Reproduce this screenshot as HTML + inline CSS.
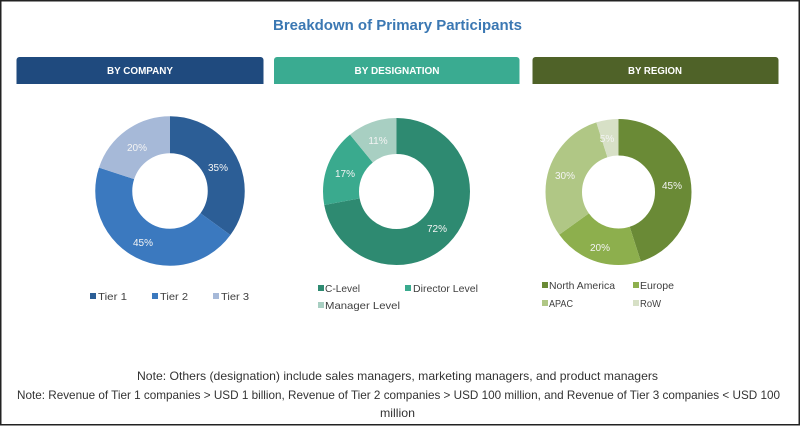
<!DOCTYPE html>
<html>
<head>
<meta charset="utf-8">
<style>
html,body{margin:0;padding:0;background:#fff;}
svg{display:block;}
text{font-family:"Liberation Sans",Arial,sans-serif;}
</style>
</head>
<body>
<svg width="800" height="426" viewBox="0 0 800 426" xmlns="http://www.w3.org/2000/svg">
  <rect x="0" y="0" width="800" height="426" fill="#fff"/>
  <rect x="0.75" y="0.75" width="798.5" height="424" fill="none" stroke="#222" stroke-width="1.5"/>

  <!-- Title -->
  <text x="397.5" y="30" text-anchor="middle" font-size="15" font-weight="bold" fill="#3b78b3" textLength="249" lengthAdjust="spacingAndGlyphs">Breakdown of Primary Participants</text>

  <!-- Header bars -->
  <path d="M16.5,84 V60 a3,3 0 0 1 3,-3 H260.5 a3,3 0 0 1 3,3 V84 Z" fill="#1f4a7e"/>
  <text x="140" y="74" text-anchor="middle" font-size="10" font-weight="bold" fill="#fff" textLength="66" lengthAdjust="spacingAndGlyphs">BY COMPANY</text>
  <path d="M274,84 V60 a3,3 0 0 1 3,-3 H516.5 a3,3 0 0 1 3,3 V84 Z" fill="#3aab91"/>
  <text x="397" y="74" text-anchor="middle" font-size="10" font-weight="bold" fill="#fff" textLength="85" lengthAdjust="spacingAndGlyphs">BY DESIGNATION</text>
  <path d="M532.5,84 V60 a3,3 0 0 1 3,-3 H775.5 a3,3 0 0 1 3,3 V84 Z" fill="#4f6228"/>
  <text x="655" y="74" text-anchor="middle" font-size="10" font-weight="bold" fill="#fff" textLength="54" lengthAdjust="spacingAndGlyphs">BY REGION</text>

  <!-- Donut 1: Company -->
  <g transform="rotate(-90 170 191)" fill="none" stroke-width="37">
    <circle cx="170" cy="191" r="56.25" stroke="#2c5e96" stroke-dasharray="123.70 353.43" stroke-dashoffset="0"/>
    <circle cx="170" cy="191" r="56.25" stroke="#3b79bf" stroke-dasharray="159.04 353.43" stroke-dashoffset="-123.70"/>
    <circle cx="170" cy="191" r="56.25" stroke="#a6b9d8" stroke-dasharray="70.69 353.43" stroke-dashoffset="-282.74"/>
  </g>
  <g font-size="10" fill="#f4f4f4" text-anchor="middle">
    <text x="218" y="171">35%</text>
    <text x="143" y="246">45%</text>
    <text x="137" y="151">20%</text>
  </g>
  <g font-size="10.5" fill="#404040">
    <rect x="90" y="293" width="6" height="6" fill="#2c5e96"/>
    <text x="98" y="300" textLength="29" lengthAdjust="spacingAndGlyphs">Tier 1</text>
    <rect x="152" y="293" width="6" height="6" fill="#3b79bf"/>
    <text x="160" y="300" textLength="28" lengthAdjust="spacingAndGlyphs">Tier 2</text>
    <rect x="213" y="293" width="6" height="6" fill="#a6b9d8"/>
    <text x="221" y="300" textLength="28" lengthAdjust="spacingAndGlyphs">Tier 3</text>
  </g>

  <!-- Donut 2: Designation -->
  <g transform="rotate(-90 396.5 191.5)" fill="none" stroke-width="36">
    <circle cx="396.5" cy="191.5" r="55.5" stroke="#2e8a71" stroke-dasharray="251.08 348.72" stroke-dashoffset="0"/>
    <circle cx="396.5" cy="191.5" r="55.5" stroke="#3aaa8e" stroke-dasharray="59.28 348.72" stroke-dashoffset="-251.08"/>
    <circle cx="396.5" cy="191.5" r="55.5" stroke="#a8cfc2" stroke-dasharray="38.36 348.72" stroke-dashoffset="-310.36"/>
  </g>
  <g font-size="10" fill="#f4f4f4" text-anchor="middle">
    <text x="437" y="232">72%</text>
    <text x="345" y="177">17%</text>
    <text x="378" y="144">11%</text>
  </g>
  <g font-size="10.5" fill="#404040">
    <rect x="318" y="285" width="6" height="6" fill="#2e8a71"/>
    <text x="325" y="292" textLength="35" lengthAdjust="spacingAndGlyphs">C-Level</text>
    <rect x="405" y="285" width="6" height="6" fill="#3aaa8e"/>
    <text x="413" y="292" textLength="65" lengthAdjust="spacingAndGlyphs">Director Level</text>
    <rect x="318" y="302" width="6" height="6" fill="#a8cfc2"/>
    <text x="325" y="309" textLength="75" lengthAdjust="spacingAndGlyphs">Manager Level</text>
  </g>

  <!-- Donut 3: Region -->
  <g transform="rotate(-90 618.5 192)" fill="none" stroke-width="36.5">
    <circle cx="618.5" cy="192" r="54.75" stroke="#6a8a36" stroke-dasharray="154.8 344.0" stroke-dashoffset="0"/>
    <circle cx="618.5" cy="192" r="54.75" stroke="#8daf4d" stroke-dasharray="68.8 344.0" stroke-dashoffset="-154.8"/>
    <circle cx="618.5" cy="192" r="54.75" stroke="#b0c785" stroke-dasharray="103.2 344.0" stroke-dashoffset="-223.6"/>
    <circle cx="618.5" cy="192" r="54.75" stroke="#d7e0c6" stroke-dasharray="17.2 344.0" stroke-dashoffset="-326.8"/>
  </g>
  <g font-size="10" fill="#f4f4f4" text-anchor="middle">
    <text x="672" y="189">45%</text>
    <text x="600" y="251">20%</text>
    <text x="565" y="179">30%</text>
    <text x="607" y="142">5%</text>
  </g>
  <g font-size="10.5" fill="#404040">
    <rect x="542" y="282" width="6" height="6" fill="#6a8a36"/>
    <text x="549" y="289" textLength="66" lengthAdjust="spacingAndGlyphs">North America</text>
    <rect x="633" y="282" width="6" height="6" fill="#8daf4d"/>
    <text x="640" y="289" textLength="34" lengthAdjust="spacingAndGlyphs">Europe</text>
    <rect x="542" y="300" width="6" height="6" fill="#b0c785"/>
    <text x="549" y="307" textLength="24" lengthAdjust="spacingAndGlyphs">APAC</text>
    <rect x="633" y="300" width="6" height="6" fill="#d7e0c6"/>
    <text x="640" y="307" textLength="21" lengthAdjust="spacingAndGlyphs">RoW</text>
  </g>

  <!-- Notes -->
  <g font-size="12" fill="#333">
    <text x="137" y="380" textLength="521" lengthAdjust="spacingAndGlyphs">Note: Others (designation) include sales managers, marketing managers, and product managers</text>
    <text x="17" y="399" textLength="763" lengthAdjust="spacingAndGlyphs">Note: Revenue of Tier 1 companies &gt; USD 1 billion, Revenue of Tier 2 companies &gt; USD 100 million, and Revenue of Tier 3 companies &lt; USD 100</text>
    <text x="380" y="417" textLength="35" lengthAdjust="spacingAndGlyphs">million</text>
  </g>
</svg>
</body>
</html>
